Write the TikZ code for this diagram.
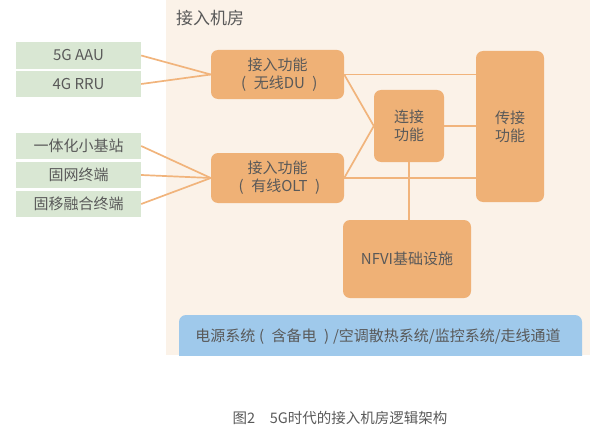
\documentclass[tikz,border=0pt]{standalone}
\usepackage{fontspec}
\setmainfont{Noto Sans CJK SC}
\definecolor{bgc}{HTML}{FBF2E8}
\definecolor{greenc}{HTML}{D9E7D3}
\definecolor{orangec}{HTML}{EFB176}
\definecolor{linec}{HTML}{F1B47C}
\definecolor{bluec}{HTML}{9FC9EB}
\definecolor{textc}{HTML}{595959}
\newcommand{\lp}{\hspace{0.25em}(\hspace{0.5em}}
\newcommand{\rp}{\hspace{0.5em})\hspace{0.25em}}
\begin{document}
\begin{tikzpicture}[x=1pt,y=-1pt,
  every node/.style={text=textc, font=\fontsize{15}{18}\selectfont, inner sep=0pt},
  gbox/.style={fill=greenc, minimum width=125pt, minimum height=26.5pt},
  obox/.style={fill=orangec, rounded corners=7pt, align=center},
  conn/.style={draw=linec, line width=1.7pt}]
\useasboundingbox (0,0) rectangle (593,433);
\fill[bgc] (166,0) rectangle (590,355);
\node[anchor=west, font=\fontsize{17}{20}\selectfont] (title) at (176,18) {接入机房};
% blue bar
\begin{scope}
\clip (0,0) rectangle (593,355);
\fill[bluec, rounded corners=7pt] (179,315) rectangle (582,370);
\end{scope}
\node (infra) at (378,337) {电源系统\lp 含备电\rp /空调散热系统/监控系统/走线通道};
% green boxes
\node[gbox] (aau) at (78.5,55.5) {5G AAU};
\node[gbox] (rru) at (78.5,84) {4G RRU};
\node[gbox] (small) at (78.5,146) {一体化小基站};
\node[gbox] (fixed) at (78.5,175) {固网终端};
\node[gbox] (fmc) at (78.5,204) {固移融合终端};
% orange boxes
\node[obox, minimum width=133pt, minimum height=49pt] (du) at (277.5,74.5) {接入功能\\\lp 无线DU\rp};
\node[obox, minimum width=133pt, minimum height=50pt] (olt) at (277.5,178) {接入功能\\\lp 有线OLT\rp};
\node[obox, minimum width=70pt, minimum height=72pt] (con) at (409,126) {连接\\功能};
\node[obox, minimum width=68pt, minimum height=151pt] (tra) at (510,126.5) {传接\\功能};
\node[obox, minimum width=128pt, minimum height=78pt] (nfvi) at (407,259) {NFVI基础设施};
% connectors
\draw[conn] (aau.east) -- (du.west);
\draw[conn] (rru.east) -- (du.west);
\draw[conn] (small.east) -- (olt.west);
\draw[conn] (fixed.east) -- (olt.west);
\draw[conn] (fmc.east) -- (olt.west);
\draw[conn] (du.east) -- (du.east -| tra.west);
\draw[conn] (olt.east) -- (olt.east -| tra.west);
\draw[conn] (du.east) -- (con.west);
\draw[conn] (olt.east) -- (con.west);
\draw[conn] (con.east) -- (con.east -| tra.west);
\draw[conn] (con.south) -- (con.south |- nfvi.north);
% caption
\node[font=\fontsize{14.5}{17}\selectfont] (cap) at (340,418) {图2\quad 5G时代的接入机房逻辑架构};
\end{tikzpicture}
\end{document}
